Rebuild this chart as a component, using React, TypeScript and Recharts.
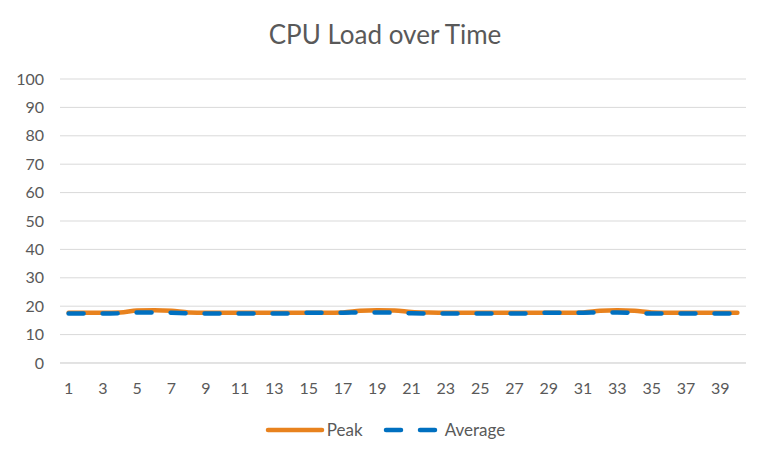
import { CartesianGrid, Legend, Line, LineChart, XAxis, YAxis } from "recharts"

const minutes = Array.from({ length: 40 }, (_, i) => String(i + 1))

const peak = [
  17.7, 17.7, 17.7, 17.8, 18.5, 18.6, 18.4, 17.8, 17.7, 17.7,
  17.7, 17.7, 17.7, 17.7, 17.7, 17.7, 17.8, 18.4, 18.6, 18.5,
  18.0, 17.8, 17.7, 17.7, 17.7, 17.7, 17.7, 17.7, 17.7, 17.7,
  17.8, 18.4, 18.6, 18.4, 17.8, 17.7, 17.7, 17.7, 17.7, 17.7,
]

const average = [
  17.4, 17.4, 17.4, 17.5, 17.8, 17.8, 17.7, 17.5, 17.4, 17.4,
  17.4, 17.4, 17.4, 17.4, 17.7, 17.7, 17.7, 17.8, 17.8, 17.7,
  17.5, 17.4, 17.4, 17.4, 17.4, 17.4, 17.4, 17.5, 17.7, 17.7,
  17.7, 17.8, 17.8, 17.6, 17.4, 17.4, 17.4, 17.4, 17.4, 17.4,
]

const yTicks = [0, 10, 20, 30, 40, 50, 60, 70, 80, 90, 100]

const data = minutes.map((m, i) => ({ minute: m, peak: peak[i], average: average[i] }))

const orange = "#E8821E"
const blue = "#0070C0"
const textColor = "#595959"
const font = "Lato, 'Open Sans', sans-serif"

function LegendContent() {
  return (
    <div style={{ display: "flex", justifyContent: "center", alignItems: "center", fontFamily: font, fontSize: 17, color: textColor }}>
      <svg width={60} height={10}>
        <line x1={3} y1={5} x2={57} y2={5} stroke={orange} strokeWidth={4.5} strokeLinecap="round" />
      </svg>
      <span style={{ marginLeft: 2, marginRight: 20 }}>Peak</span>
      <svg width={60} height={10}>
        <line x1={3} y1={5} x2={57} y2={5} stroke={blue} strokeWidth={4.5} strokeLinecap="round" strokeDasharray="15 19" />
      </svg>
      <span style={{ marginLeft: 2 }}>Average</span>
    </div>
  )
}

export default function App() {
  return (
    <div style={{ position: "absolute", left: 0, top: 0, width: 770, height: 462, background: "#fff" }}>
      <div style={{ position: "absolute", top: 18, width: 770, textAlign: "center", fontFamily: font, fontSize: 26, color: textColor }}>
        CPU Load over Time
      </div>
      <LineChart width={770} height={462} data={data} margin={{ top: 79, right: 24, bottom: 0, left: 0 }}>
        <CartesianGrid vertical={false} stroke="#D9D9D9" strokeWidth={1} />
        <XAxis
          dataKey="minute"
          interval={1}
          height={40}
          padding={{ left: 8.6, right: 8.6 }}
          tickLine={false}
          axisLine={{ stroke: "#D9D9D9" }}
          tick={{ fill: textColor, fontSize: 16, fontFamily: font }}
          tickMargin={14}
        />
        <YAxis
          domain={[0, 100]}
          ticks={yTicks}
          width={60}
          tickLine={false}
          axisLine={false}
          tickSize={0}
          tickMargin={16}
          tick={{ fill: textColor, fontSize: 16, fontFamily: font }}
        />
        <Legend verticalAlign="bottom" height={59} content={<LegendContent />} wrapperStyle={{ top: 419, left: 0, width: 770 }} />
        <Line type="monotone" dataKey="peak" name="Peak" stroke={orange} strokeWidth={4.5} dot={false} strokeLinecap="round" isAnimationActive={false} />
        <Line type="monotone" dataKey="average" name="Average" stroke={blue} strokeWidth={4.5} dot={false} strokeLinecap="round" strokeDasharray="15 19" isAnimationActive={false} />
      </LineChart>
    </div>
  )
}
